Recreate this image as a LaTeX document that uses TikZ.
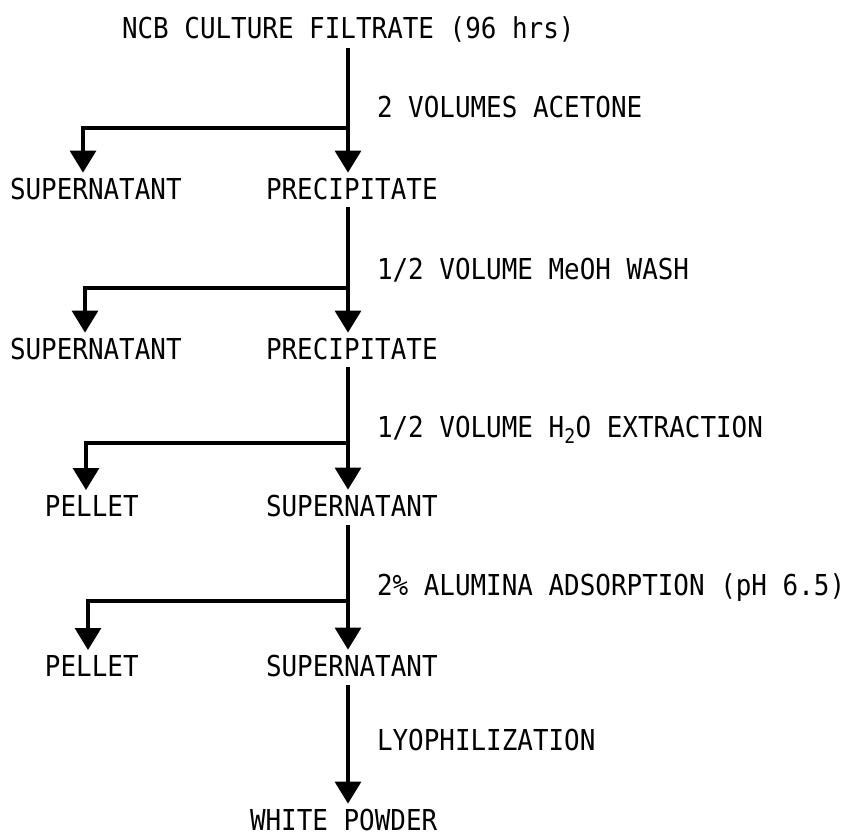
\documentclass[tikz,border=0pt]{standalone}
\usepackage{fontspec}
\newfontfamily\typed[FakeStretch=0.9]{DejaVu Sans Mono}
\usetikzlibrary{arrows.meta}
\tikzset{
  lbl/.style={anchor=base west, inner sep=0pt, outer sep=0pt, font=\typed\fontsize{28.8}{30}\selectfont},
  flow/.style={line width=3.2pt, -{Triangle[width=26pt,length=22pt]}, shorten >=5pt},
}
\begin{document}
\begin{tikzpicture}[x=1pt,y=-1pt]
\useasboundingbox (0,0) rectangle (852,836);
% nodes
\node[lbl] (title) at (122,38.5) {NCB CULTURE FILTRATE (96 hrs)};
\node[lbl] (s1) at (377,117.5) {2 VOLUMES ACETONE};
\node[lbl] (r1a) at (10,199) {SUPERNATANT};
\node[lbl] (r1b) at (266,199) {PRECIPITATE};
\node[lbl] (s2) at (377,279.5) {1/2 VOLUME MeOH WASH};
\node[lbl] (r2a) at (10,359) {SUPERNATANT};
\node[lbl] (r2b) at (266,359) {PRECIPITATE};
\node[lbl] (s3) at (377,437.5) {1/2 VOLUME H\textsubscript{2}O EXTRACTION};
\node[lbl] (r3a) at (45,516) {PELLET};
\node[lbl] (r3b) at (266,516) {SUPERNATANT};
\node[lbl] (s4) at (377,595.5) {2\% ALUMINA ADSORPTION (pH 6.5)};
\node[lbl] (r4a) at (45,676) {PELLET};
\node[lbl] (r4b) at (266,676) {SUPERNATANT};
\node[lbl] (s5) at (377,750.5) {LYOPHILIZATION};
\node[lbl] (end) at (250,830) {WHITE POWDER};
% coordinates
\coordinate (t1) at (348,48);
\coordinate (j1) at (348,128);  \coordinate (l1) at (83,128);
\coordinate (t2) at (348,207);
\coordinate (j2) at (348,288);  \coordinate (l2) at (85,288);
\coordinate (t3) at (348,367);
\coordinate (j3) at (348,443);  \coordinate (l3) at (86,443);
\coordinate (t4) at (348,525);
\coordinate (j4) at (348,601);  \coordinate (l4) at (88,601);
\coordinate (t5) at (348,685);
% connectors
\draw[flow] (t1) -- (r1b.north -| t1);
\draw[flow] (j1) -- (l1) -- (r1a.north -| l1);
\draw[flow] (t2) -- (r2b.north -| t2);
\draw[flow] (j2) -- (l2) -- (r2a.north -| l2);
\draw[flow] (t3) -- (r3b.north -| t3);
\draw[flow] (j3) -- (l3) -- (r3a.north -| l3);
\draw[flow] (t4) -- (r4b.north -| t4);
\draw[flow] (j4) -- (l4) -- (r4a.north -| l4);
\draw[flow] (t5) -- (end.north -| t5);
\end{tikzpicture}
\end{document}
